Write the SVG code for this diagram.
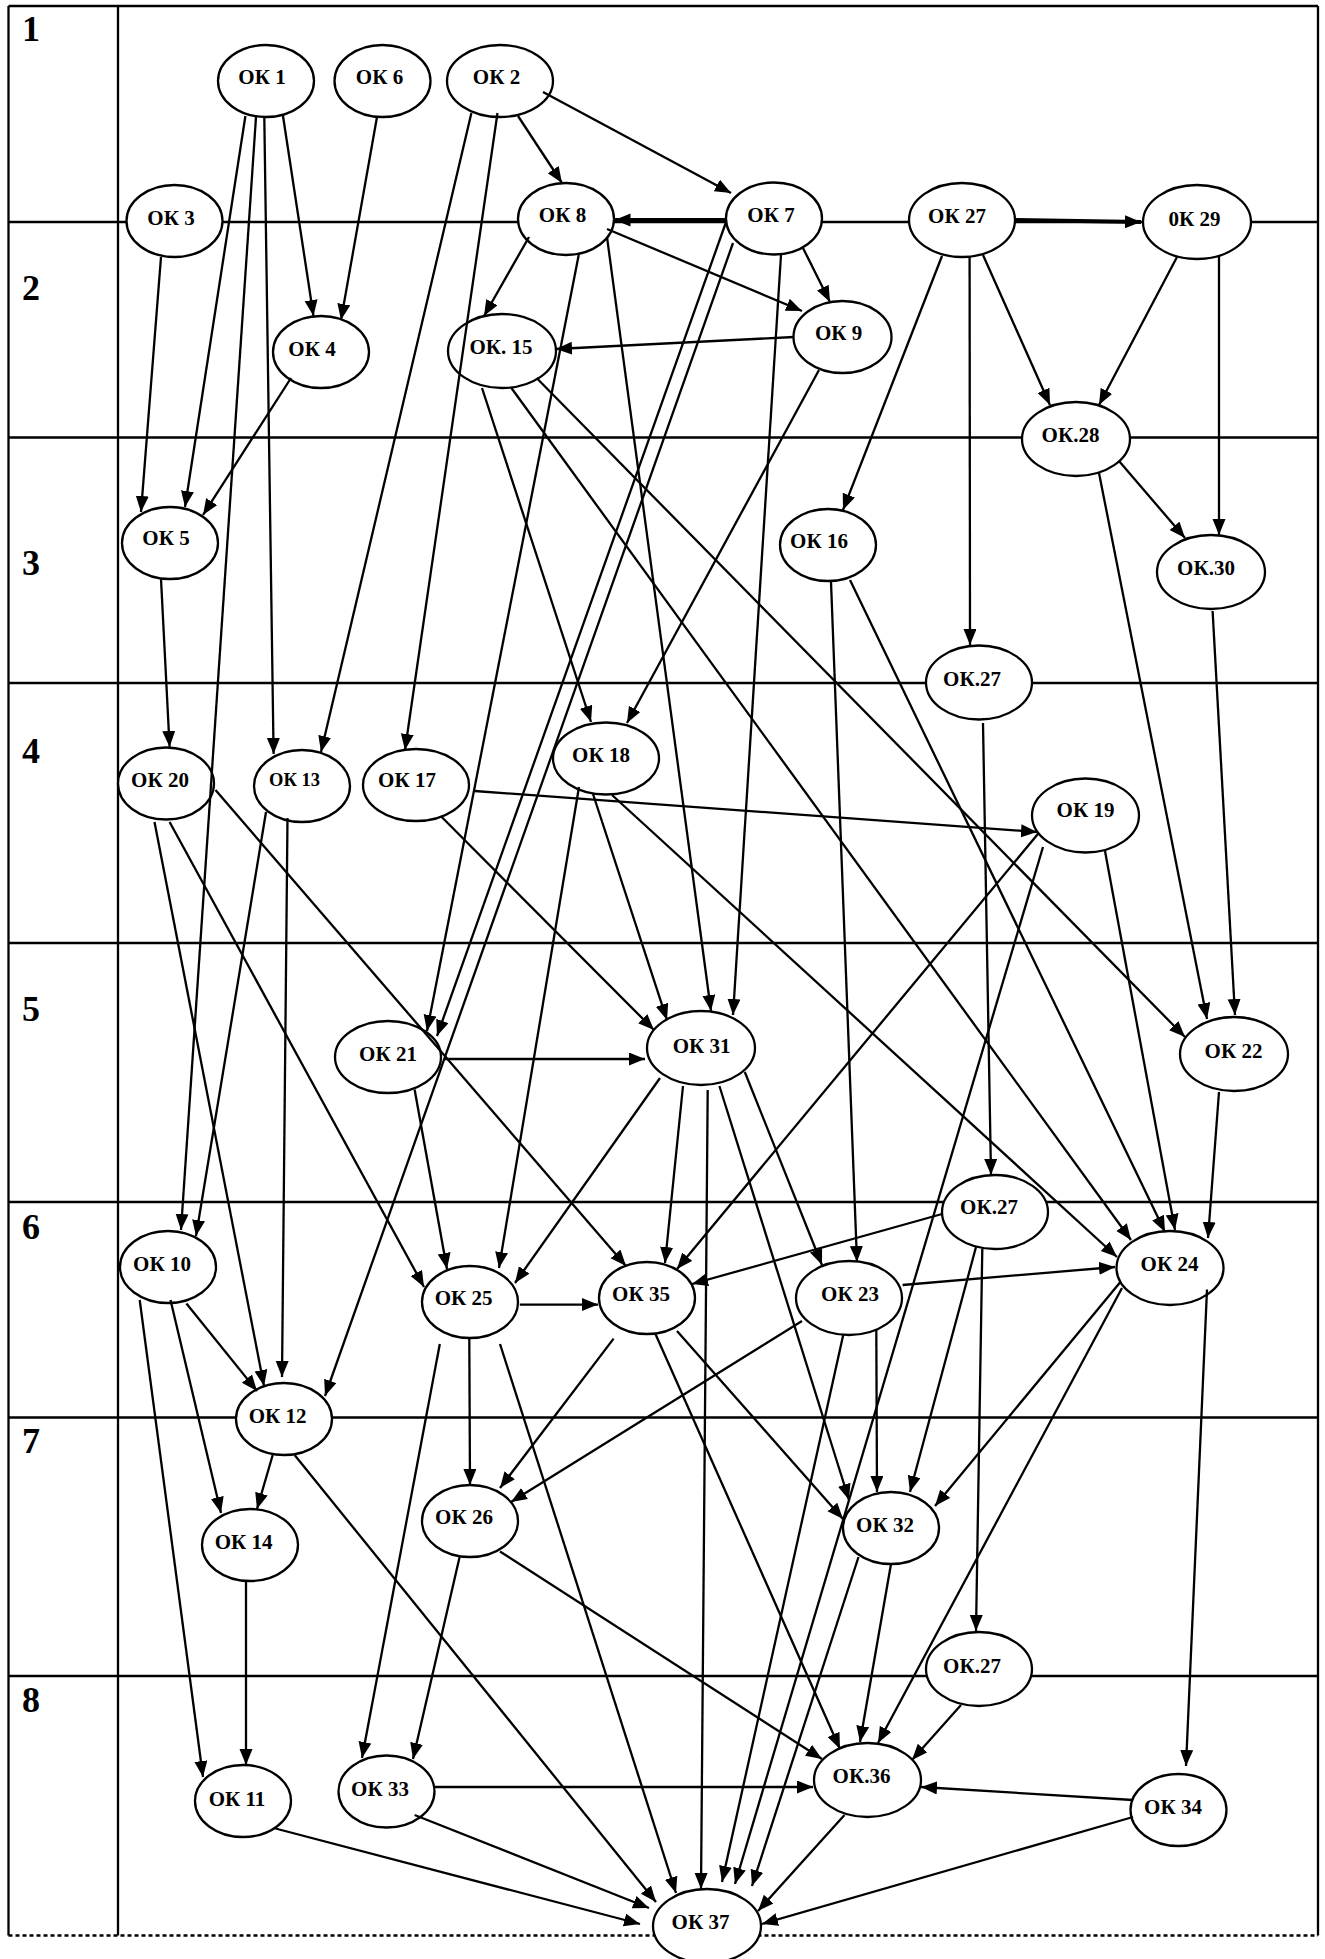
<svg xmlns="http://www.w3.org/2000/svg" width="1325" height="1959" viewBox="0 0 1325 1959">
<style>
.grid{stroke:#000;stroke-width:2.3;fill:none}
.e{stroke:#000;stroke-width:2.3;fill:none;marker-end:url(#ah)}
.t{stroke-width:3.8}
.n ellipse{fill:#fff;stroke:#000;stroke-width:2.3}
.n text{font-family:"Liberation Serif","Times New Roman",serif;font-weight:bold;font-size:21px;text-anchor:middle;fill:#000}
.row{font-family:"Liberation Serif","Times New Roman",serif;font-weight:bold;font-size:36px;fill:#000}
</style>
<defs>
<marker id="ah" markerUnits="userSpaceOnUse" markerWidth="17" markerHeight="14" refX="16" refY="6.5" orient="auto">
<path d="M0,0 L16,6.5 L0,13 Z" fill="#000"/>
</marker>
</defs>
<rect width="1325" height="1959" fill="#fff"/>
<g id="grid">
<line class="grid" x1="8.5" y1="6" x2="1318" y2="6"/>
<line class="grid" x1="8.5" y1="6" x2="8.5" y2="1935.5"/>
<line class="grid" x1="1318" y1="6" x2="1318" y2="1935.5"/>
<line class="grid" x1="118" y1="6" x2="118" y2="1935.5"/>
<line class="grid" x1="8.5" y1="222" x2="1318" y2="222"/>
<line class="grid" x1="8.5" y1="437.5" x2="1318" y2="437.5"/>
<line class="grid" x1="8.5" y1="683" x2="1318" y2="683"/>
<line class="grid" x1="8.5" y1="943" x2="1318" y2="943"/>
<line class="grid" x1="8.5" y1="1202" x2="1318" y2="1202"/>
<line class="grid" x1="8.5" y1="1417.5" x2="1318" y2="1417.5"/>
<line class="grid" x1="8.5" y1="1676" x2="1318" y2="1676"/>
<line class="grid" x1="8.5" y1="1935.5" x2="1318" y2="1935.5" stroke-dasharray="4 3"/>
</g>
<g id="row-labels">
<text class="row" x="22" y="41">1</text>
<text class="row" x="22" y="300">2</text>
<text class="row" x="22" y="575">3</text>
<text class="row" x="22" y="763">4</text>
<text class="row" x="22" y="1021">5</text>
<text class="row" x="22" y="1239">6</text>
<text class="row" x="22" y="1453">7</text>
<text class="row" x="22" y="1712">8</text>
</g>
<g id="nodes">
<g id="ok1" class="n"><ellipse cx="266" cy="81" rx="48" ry="36"/><text x="262" y="84">ОК 1</text></g>
<g id="ok6" class="n"><ellipse cx="382.5" cy="81" rx="48" ry="36"/><text x="379.5" y="84">ОК 6</text></g>
<g id="ok2" class="n"><ellipse cx="500" cy="81" rx="53" ry="36"/><text x="496.5" y="84">ОК 2</text></g>
<g id="ok3" class="n"><ellipse cx="174.5" cy="221" rx="48" ry="36"/><text x="171" y="225">ОК 3</text></g>
<g id="ok8" class="n"><ellipse cx="566" cy="219" rx="48" ry="36"/><text x="562.5" y="222">ОК 8</text></g>
<g id="ok7" class="n"><ellipse cx="774" cy="218.5" rx="48" ry="36"/><text x="771" y="222">ОК 7</text></g>
<g id="ok27" class="n"><ellipse cx="962" cy="220" rx="53" ry="37"/><text x="957" y="223">ОК 27</text></g>
<g id="ok29" class="n"><ellipse cx="1197" cy="222" rx="54" ry="37"/><text x="1194.5" y="226">0К 29</text></g>
<g id="ok4" class="n"><ellipse cx="321" cy="352" rx="48" ry="36"/><text x="312" y="356">ОК 4</text></g>
<g id="ok15" class="n"><ellipse cx="502" cy="351" rx="54" ry="37"/><text x="501" y="354">ОК. 15</text></g>
<g id="ok9" class="n"><ellipse cx="842.5" cy="337" rx="49" ry="36"/><text x="838.7" y="340">ОК 9</text></g>
<g id="ok28" class="n"><ellipse cx="1076" cy="439" rx="54" ry="37"/><text x="1070.5" y="442">ОК.28</text></g>
<g id="ok5" class="n"><ellipse cx="170" cy="543" rx="48" ry="36"/><text x="166" y="545">ОК 5</text></g>
<g id="ok16" class="n"><ellipse cx="828" cy="545" rx="48" ry="36"/><text x="819" y="548">ОК 16</text></g>
<g id="ok30" class="n"><ellipse cx="1211" cy="572" rx="54" ry="37"/><text x="1206" y="575">ОК.30</text></g>
<g id="ok27a" class="n"><ellipse cx="979" cy="682.5" rx="53" ry="37"/><text x="972" y="686">ОК.27</text></g>
<g id="ok20" class="n"><ellipse cx="166" cy="783.5" rx="48" ry="36"/><text x="160" y="787">ОК 20</text></g>
<g id="ok13" class="n"><ellipse cx="302" cy="786" rx="48" ry="36"/><text x="294.5" y="786" style="font-size:18.5px">ОК 13</text></g>
<g id="ok17" class="n"><ellipse cx="416" cy="785" rx="53" ry="36"/><text x="407" y="787">ОК 17</text></g>
<g id="ok18" class="n"><ellipse cx="606" cy="758.5" rx="53" ry="36"/><text x="601" y="762">ОК 18</text></g>
<g id="ok19" class="n"><ellipse cx="1085.5" cy="815.5" rx="53.5" ry="37"/><text x="1085.5" y="817">ОК 19</text></g>
<g id="ok21" class="n"><ellipse cx="388" cy="1057" rx="53" ry="36"/><text x="388" y="1061">ОК 21</text></g>
<g id="ok31" class="n"><ellipse cx="701" cy="1048" rx="54" ry="37"/><text x="701.7" y="1053">ОК 31</text></g>
<g id="ok22" class="n"><ellipse cx="1234" cy="1054" rx="54" ry="37"/><text x="1233.5" y="1058">ОК 22</text></g>
<g id="ok27b" class="n"><ellipse cx="995" cy="1212" rx="53" ry="37"/><text x="989" y="1214">ОК.27</text></g>
<g id="ok10" class="n"><ellipse cx="168" cy="1267" rx="48" ry="36"/><text x="162" y="1271">ОК 10</text></g>
<g id="ok25" class="n"><ellipse cx="470" cy="1302" rx="48" ry="36"/><text x="463.6" y="1305">ОК 25</text></g>
<g id="ok35" class="n"><ellipse cx="647" cy="1298" rx="48" ry="36"/><text x="641" y="1301">ОК 35</text></g>
<g id="ok23" class="n"><ellipse cx="849" cy="1298" rx="53" ry="37"/><text x="850" y="1301">ОК 23</text></g>
<g id="ok24" class="n"><ellipse cx="1170" cy="1268" rx="53.5" ry="37"/><text x="1169.5" y="1271">ОК 24</text></g>
<g id="ok12" class="n"><ellipse cx="284" cy="1419" rx="48" ry="36"/><text x="277.7" y="1423">ОК 12</text></g>
<g id="ok26" class="n"><ellipse cx="470" cy="1521" rx="48" ry="36"/><text x="464" y="1524">ОК 26</text></g>
<g id="ok14" class="n"><ellipse cx="250" cy="1545" rx="48" ry="36"/><text x="243.7" y="1549">ОК 14</text></g>
<g id="ok32" class="n"><ellipse cx="891" cy="1528" rx="48" ry="36"/><text x="885" y="1532">ОК 32</text></g>
<g id="ok27c" class="n"><ellipse cx="979" cy="1669" rx="53" ry="37"/><text x="972" y="1673">ОК.27</text></g>
<g id="ok36" class="n"><ellipse cx="867.5" cy="1780" rx="53.5" ry="37"/><text x="861.5" y="1783">ОК.36</text></g>
<g id="ok34" class="n"><ellipse cx="1178.5" cy="1810" rx="48" ry="36"/><text x="1173" y="1814">ОК 34</text></g>
<g id="ok11" class="n"><ellipse cx="243" cy="1801" rx="48" ry="36"/><text x="237" y="1806">ОК 11</text></g>
<g id="ok33" class="n"><ellipse cx="386.5" cy="1791.5" rx="48" ry="36"/><text x="380" y="1796">ОК 33</text></g>
<g id="ok37" class="n"><ellipse cx="707" cy="1926" rx="54" ry="37"/><text x="700.5" y="1929">ОК 37</text></g>
</g>
<g id="connectors">
<line class="e" x1="283" y1="116" x2="313.5" y2="316"/>
<line class="e" x1="377" y1="117" x2="341" y2="320"/>
<line class="e" x1="245.4" y1="116" x2="185" y2="507"/>
<line class="e" x1="256" y1="117" x2="181" y2="1230"/>
<line class="e" x1="264.3" y1="117" x2="273.6" y2="754"/>
<line class="e" x1="161" y1="257" x2="141" y2="512"/>
<line class="e" x1="291" y1="378" x2="203" y2="515"/>
<line class="e" x1="518" y1="116" x2="562" y2="183"/>
<line class="e" x1="543" y1="92" x2="731" y2="193"/>
<line class="e" x1="471.4" y1="113" x2="321" y2="752"/>
<line class="e" x1="497.5" y1="113" x2="405" y2="750"/>
<line class="e t" x1="725.7" y1="220" x2="614.5" y2="220"/>
<line class="e" x1="529" y1="237" x2="484" y2="316"/>
<line class="e" x1="607" y1="229" x2="802" y2="311"/>
<line class="e" x1="803" y1="248" x2="830" y2="302"/>
<line class="e" x1="794" y1="337" x2="556" y2="349"/>
<line class="e t" x1="1016" y1="220" x2="1141" y2="222"/>
<line class="e" x1="942" y1="256" x2="843" y2="510"/>
<line class="e" x1="969.6" y1="257" x2="970" y2="645"/>
<line class="e" x1="983" y1="255" x2="1050" y2="405"/>
<line class="e" x1="1177" y1="257" x2="1099" y2="405"/>
<line class="e" x1="1219" y1="257" x2="1219" y2="535"/>
<line class="e" x1="1119" y1="461" x2="1185" y2="538"/>
<line class="e" x1="1099" y1="473" x2="1207" y2="1019"/>
<line class="e" x1="1212.6" y1="611" x2="1235" y2="1015"/>
<line class="e" x1="536.6" y1="378" x2="1185" y2="1037"/>
<line class="e" x1="482" y1="388" x2="591" y2="722"/>
<line class="e" x1="511.4" y1="388" x2="1131" y2="1240"/>
<line class="e" x1="612" y1="795" x2="1117" y2="1257"/>
<line class="e" x1="831" y1="582" x2="857" y2="1262"/>
<line class="e" x1="850" y1="580" x2="1165" y2="1232"/>
<line class="e" x1="983" y1="723" x2="991" y2="1175"/>
<line class="e" x1="474.7" y1="791" x2="1037" y2="832"/>
<line class="e" x1="441.7" y1="817" x2="654" y2="1030"/>
<line class="e" x1="593" y1="794" x2="667" y2="1020"/>
<line class="e" x1="579" y1="787" x2="499" y2="1268"/>
<line class="e" x1="578.7" y1="255" x2="427" y2="1031"/>
<line class="e" x1="725.7" y1="223" x2="437" y2="1036"/>
<line class="e" x1="733" y1="243" x2="325" y2="1396"/>
<line class="e" x1="607" y1="237" x2="711" y2="1011"/>
<line class="e" x1="781" y1="255" x2="733" y2="1015"/>
<line class="e" x1="819" y1="370" x2="627" y2="723"/>
<line class="e" x1="161" y1="579" x2="169.6" y2="747"/>
<line class="e" x1="266" y1="812" x2="196" y2="1236"/>
<line class="e" x1="287.5" y1="818" x2="282" y2="1377"/>
<line class="e" x1="154.5" y1="822" x2="264" y2="1386"/>
<line class="e" x1="169.6" y1="822" x2="424" y2="1287"/>
<line class="e" x1="215.5" y1="790" x2="626" y2="1266"/>
<line class="e" x1="445" y1="1059" x2="645" y2="1059"/>
<line class="e" x1="414.6" y1="1089.5" x2="447" y2="1269"/>
<line class="e" x1="660" y1="1078" x2="515" y2="1283"/>
<line class="e" x1="683" y1="1086" x2="665" y2="1263"/>
<line class="e" x1="707.7" y1="1090" x2="701" y2="1889"/>
<line class="e" x1="719.4" y1="1086" x2="849" y2="1500"/>
<line class="e" x1="744.8" y1="1072" x2="822" y2="1265"/>
<line class="e" x1="1038.7" y1="833" x2="677" y2="1269"/>
<line class="e" x1="1043" y1="847" x2="735" y2="1884"/>
<line class="e" x1="902.6" y1="1285" x2="1115" y2="1267"/>
<line class="e" x1="1219" y1="1092" x2="1208" y2="1238"/>
<line class="e" x1="1105" y1="851" x2="1175" y2="1230"/>
<line class="e" x1="942" y1="1214" x2="692" y2="1284"/>
<line class="e" x1="976" y1="1247" x2="910" y2="1492"/>
<line class="e" x1="982.3" y1="1249" x2="976" y2="1631"/>
<line class="e" x1="876.3" y1="1330" x2="877" y2="1492"/>
<line class="e" x1="802" y1="1321" x2="511" y2="1502"/>
<line class="e" x1="613.6" y1="1338.6" x2="500" y2="1488"/>
<line class="e" x1="469.3" y1="1338.6" x2="470" y2="1485"/>
<line class="e" x1="519.8" y1="1304.6" x2="598" y2="1304.6"/>
<line class="e" x1="439.8" y1="1344" x2="362" y2="1758"/>
<line class="e" x1="500" y1="1344" x2="676" y2="1893"/>
<line class="e" x1="294.6" y1="1455" x2="656" y2="1902"/>
<line class="e" x1="459.6" y1="1557" x2="413" y2="1759"/>
<line class="e" x1="500" y1="1551.5" x2="822" y2="1759"/>
<line class="e" x1="655" y1="1333" x2="840" y2="1749"/>
<line class="e" x1="677" y1="1331" x2="843" y2="1519"/>
<line class="e" x1="891" y1="1564" x2="860" y2="1742"/>
<line class="e" x1="1120" y1="1282.5" x2="935" y2="1506"/>
<line class="e" x1="1122" y1="1288" x2="878" y2="1743"/>
<line class="e" x1="1207" y1="1289.5" x2="1186" y2="1766"/>
<line class="e" x1="961" y1="1705" x2="912" y2="1760"/>
<line class="e" x1="434.3" y1="1787" x2="813" y2="1787"/>
<line class="e" x1="1133" y1="1800" x2="921" y2="1787"/>
<line class="e" x1="1133" y1="1817" x2="762" y2="1924"/>
<line class="e" x1="844.5" y1="1815" x2="758" y2="1911"/>
<line class="e" x1="273.6" y1="1828" x2="640" y2="1924"/>
<line class="e" x1="414.6" y1="1815" x2="649" y2="1908"/>
<line class="e" x1="272.7" y1="1455" x2="257" y2="1509"/>
<line class="e" x1="186.4" y1="1303.5" x2="257" y2="1391"/>
<line class="e" x1="170.5" y1="1300" x2="221" y2="1513"/>
<line class="e" x1="139.7" y1="1300" x2="203" y2="1777"/>
<line class="e" x1="246" y1="1582" x2="246" y2="1765"/>
<line class="e" x1="843.2" y1="1335" x2="722" y2="1882"/>
<line class="e" x1="858.5" y1="1557" x2="752" y2="1886"/>
</g>
</svg>
